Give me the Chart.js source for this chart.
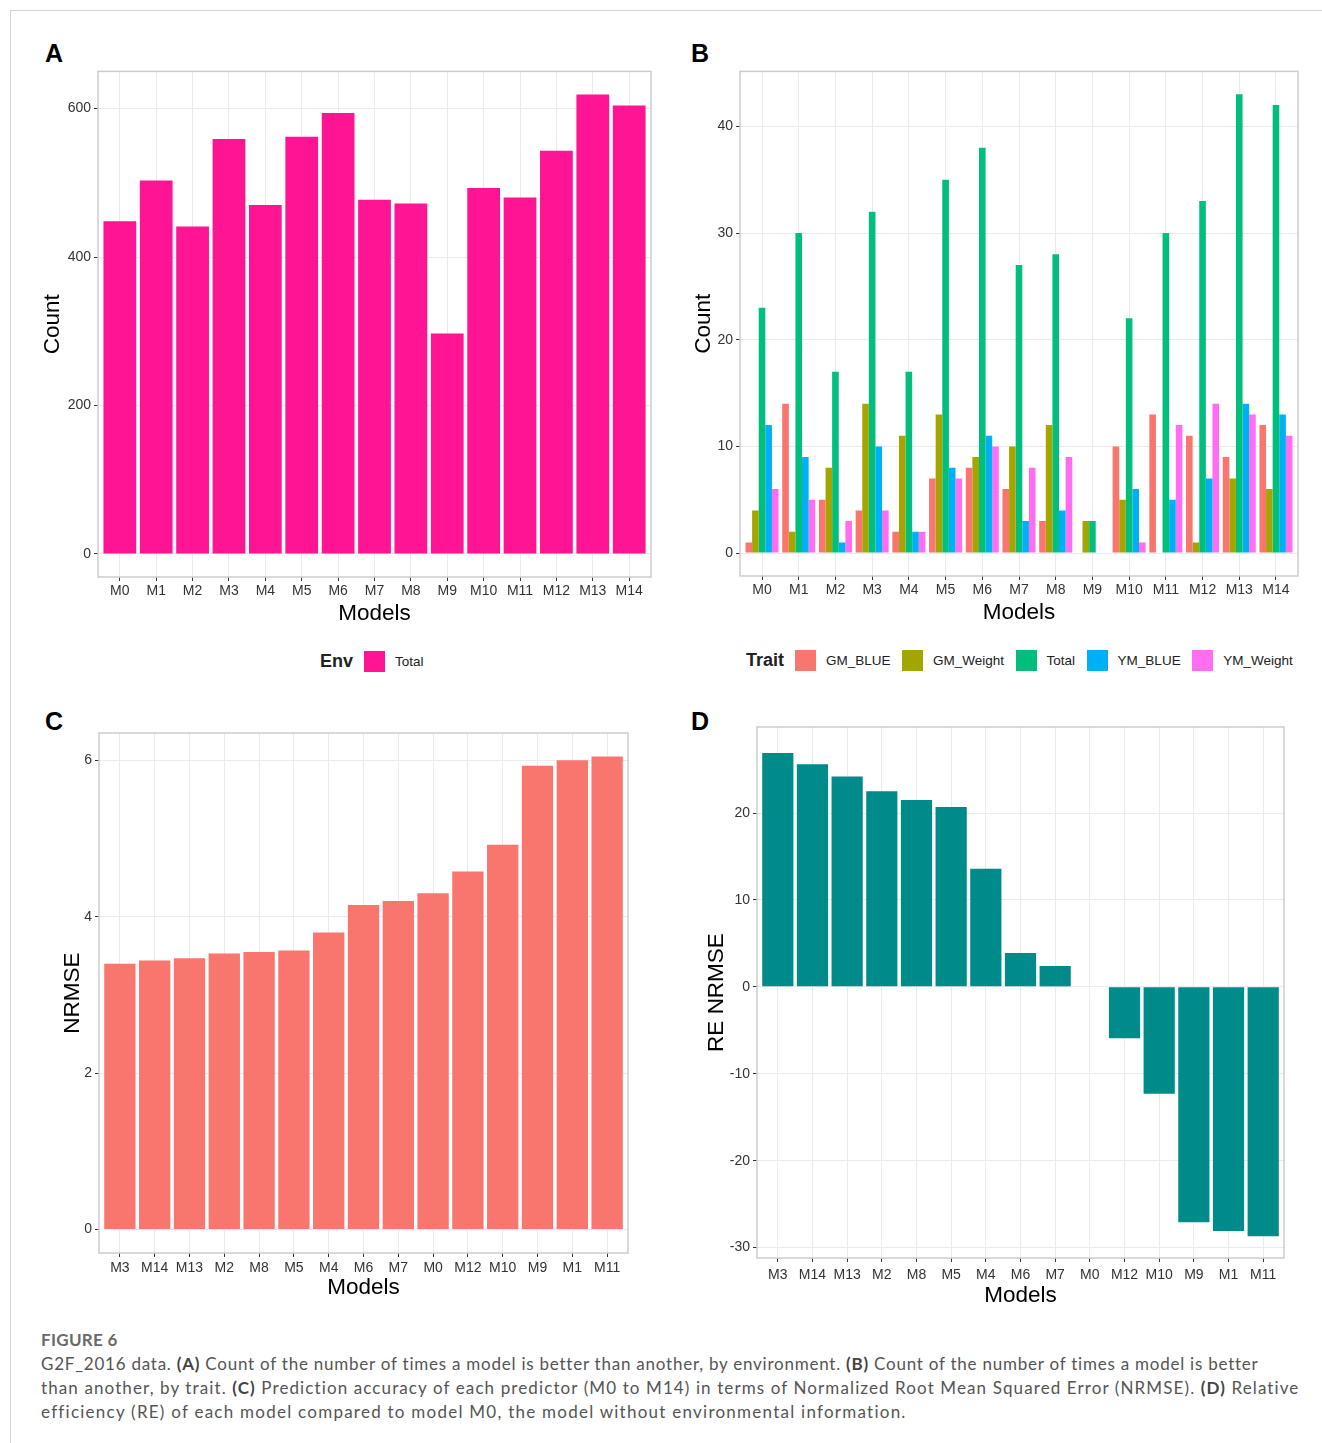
<!DOCTYPE html>
<html>
<head>
<meta charset="utf-8">
<title>G2F_2016 model comparison</title>
<script src="https://cdn.jsdelivr.net/npm/chart.js@4.4.1/dist/chart.umd.min.js"></script>
<style>
  html, body { margin: 0; padding: 0; background: #fff; }
  body { width: 1322px; height: 1443px; position: relative; overflow: hidden;
         font-family: "Liberation Sans", Arial, sans-serif; }
  .sheet { position: absolute; left: 10px; top: 10px; right: 0; bottom: 0;
           border-top: 1px solid #d4d4d4; border-left: 1px solid #d4d4d4; }
  canvas { position: absolute; }
  .tag { position: absolute; font-weight: bold; font-size: 25px; line-height: 1; color: #000; }
  .legend { position: absolute; display: flex; align-items: center; height: 22px;
            font-size: 13.5px; color: #222; white-space: nowrap; }
  .legend .ttl { font-weight: bold; font-size: 18px; margin-right: 11px; }
  .legend .sw { width: 21px; height: 21px; margin-right: 10px; }
  .legend .it { display: flex; align-items: center; margin-right: 11.5px; }
  .cap { position: absolute; left: 41px; font-family: Lato, "Open Sans", sans-serif;
         color: #555; font-size: 17px; white-space: nowrap; line-height: 24px; }
  .cap b { color: #444; }
  .fig { font-weight: bold; color: #6a6a6a; letter-spacing: 0.3px; }
</style>
</head>
<body>
<div class="sheet"></div>

<div class="tag" style="left:45px;top:41px;">A</div>
<div class="tag" style="left:691px;top:41px;">B</div>
<div class="tag" style="left:45px;top:709px;">C</div>
<div class="tag" style="left:691px;top:709px;">D</div>

<canvas id="chartA" width="640" height="580" style="left:20px;top:60px;"></canvas>
<canvas id="chartB" width="645" height="580" style="left:665px;top:60px;"></canvas>
<canvas id="chartC" width="620" height="590" style="left:20px;top:720px;"></canvas>
<canvas id="chartD" width="640" height="600" style="left:665px;top:715px;"></canvas>

<div class="legend" id="legendA" style="left:320px;top:650px;"></div>
<div class="legend" id="legendB" style="left:746px;top:649px;"></div>

<div class="cap fig" style="top:1328px;">FIGURE 6</div>
<div class="cap line" data-w="1217" style="top:1352px;">G2F_2016 data. <b>(A)</b> Count of the number of times a model is better than another, by environment. <b>(B)</b> Count of the number of times a model is better</div>
<div class="cap line" data-w="1259" style="top:1376px;">than another, by trait. <b>(C)</b> Prediction accuracy of each predictor (M0 to M14) in terms of Normalized Root Mean Squared Error (NRMSE). <b>(D)</b> Relative</div>
<div class="cap line" data-w="865" style="top:1400px;">efficiency (RE) of each model compared to model M0, the model without environmental information.</div>

<script>
// ---- data ----
const models = ['M0','M1','M2','M3','M4','M5','M6','M7','M8','M9','M10','M11','M12','M13','M14'];

// (A) wins per model, counted by environment
const envLabel = 'Total';
const envTotal = [448, 503, 441, 559, 470, 562, 594, 477, 472, 297, 493, 480, 543, 619, 604];

// (B) wins per model, counted by trait
const traitNames = ['GM_BLUE', 'GM_Weight', 'Total', 'YM_BLUE', 'YM_Weight'];
const gmBlue    = [1, 14, 5, 4, 2, 7, 8, 6, 3, 0, 10, 13, 11, 9, 12];
const gmWeight  = [4, 2, 8, 14, 11, 13, 9, 10, 12, 3, 5, 0, 1, 7, 6];
const traitTot  = [23, 30, 17, 32, 17, 35, 38, 27, 28, 3, 22, 30, 33, 43, 42];
const ymBlue    = [12, 9, 1, 10, 2, 8, 11, 3, 4, 0, 6, 5, 7, 14, 13];
const ymWeight  = [6, 5, 3, 4, 2, 7, 10, 8, 9, 0, 1, 12, 14, 13, 11];

// (C) and (D) models sorted by NRMSE
const rankedModels = ['M3','M14','M13','M2','M8','M5','M4','M6','M7','M0','M12','M10','M9','M1','M11'];
const nrmse   = [3.40, 3.44, 3.47, 3.53, 3.55, 3.57, 3.80, 4.15, 4.20, 4.30, 4.58, 4.92, 5.93, 6.00, 6.05];
const reNrmse = [26.9, 25.6, 24.2, 22.5, 21.5, 20.7, 13.6, 3.9, 2.4, 0, -5.9, -12.3, -27.1, -28.1, -28.7];

// axis tick values
const ticksA = [0, 200, 400, 600];
const ticksB = [0, 10, 20, 30, 40];
const ticksC = [0, 2, 4, 6];
const ticksD = [-30, -20, -10, 0, 10, 20];

// ---- styling ----
const FONT = 'Liberation Sans';
Chart.defaults.font.family = FONT;
const envColor = '#FF1493';
const traitColors = ['#F8766D', '#A3A500', '#00BF7D', '#00B0F6', '#FF6DF3'];
const nrmseColor = '#F8766D';
const reColor = '#008B8B';
const GRID = '#ebebeb';
const TICK = '#333333';

// outline of the plotting panel
const panelFrame = {
  id: 'panelFrame',
  afterDraw(chart) {
    const { ctx, chartArea: a } = chart;
    ctx.save();
    ctx.strokeStyle = '#cdcdcd';
    ctx.lineWidth = 1.5;
    ctx.strokeRect(a.left, a.top, a.right - a.left, a.bottom - a.top);
    ctx.restore();
  }
};

function xAxis(cats, o) {
  return {
    type: 'linear', min: -0.6, max: cats.length - 0.4, offset: false,
    afterBuildTicks: s => { s.ticks = cats.map((_, i) => ({ value: i })); },
    afterFit: s => { s.height = o.height; },
    ticks: { callback: v => cats[v], autoSkip: false, maxRotation: 0,
             font: { size: 14 }, color: TICK, padding: o.tickPad },
    grid: { offset: false, color: GRID, lineWidth: 1, tickColor: TICK, tickLength: 4 },
    border: { display: false },
    title: { display: true, text: 'Models', color: '#000', font: { size: 22.5 },
             padding: { top: 0, bottom: o.titlePad } }
  };
}

function yAxis(ticks, o) {
  return {
    type: 'linear', min: o.min, max: o.max,
    afterBuildTicks: s => { s.ticks = ticks.map(v => ({ value: v })); },
    afterFit: s => { s.width = o.width; },
    ticks: { font: { size: 14 }, color: TICK, padding: 3 },
    grid: { color: GRID, lineWidth: 1, tickColor: TICK, tickLength: 4 },
    border: { display: false },
    title: { display: true, text: o.title, color: '#000', font: { size: 22.5 },
             padding: { top: o.titlePad, bottom: 0 } }
  };
}

function points(vals) { return vals.map((v, i) => ({ x: i, y: v })); }

function barChart(id, datasets, cats, o) {
  return new Chart(document.getElementById(id), {
    type: 'bar',
    data: { datasets },
    options: {
      responsive: false, animation: false, devicePixelRatio: 1,
      layout: { padding: o.padding },
      plugins: { legend: { display: false }, tooltip: { enabled: false } },
      datasets: { bar: { categoryPercentage: 0.9, barPercentage: 1.0, borderWidth: 0 } },
      scales: { x: xAxis(cats, o.x), y: yAxis(o.ticks, o.y) }
    },
    plugins: [panelFrame]
  });
}

// (A)
barChart('chartA',
  [{ label: envLabel, data: points(envTotal), backgroundColor: envColor }],
  models,
  { padding: { top: 11, right: 9, left: 0, bottom: 0 },
    ticks: ticksA,
    x: { height: 63, tickPad: 2, titlePad: 13 },
    y: { min: -31, max: 650, width: 78, title: 'Count', titlePad: 19 } });

// (B)
const traitSeries = [gmBlue, gmWeight, traitTot, ymBlue, ymWeight];
barChart('chartB',
  traitNames.map((n, k) => ({ label: n, data: points(traitSeries[k]), backgroundColor: traitColors[k] })),
  models,
  { padding: { top: 11, right: 12, left: 0, bottom: 0 },
    ticks: ticksB,
    x: { height: 64, tickPad: 2, titlePad: 14 },
    y: { min: -2.15, max: 45.15, width: 75, title: 'Count', titlePad: 25 } });

// (C)
barChart('chartC',
  [{ label: 'NRMSE', data: points(nrmse), backgroundColor: nrmseColor }],
  rankedModels,
  { padding: { top: 13, right: 12, left: 0, bottom: 0 },
    ticks: ticksC,
    x: { height: 57, tickPad: 2.5, titlePad: 9 },
    y: { min: -0.30, max: 6.35, width: 79, title: 'NRMSE', titlePad: 39 } });

// (D)
barChart('chartD',
  [{ label: 'RE NRMSE', data: points(reNrmse), backgroundColor: reColor }],
  rankedModels,
  { padding: { top: 12, right: 21, left: 0, bottom: 0 },
    ticks: ticksD,
    x: { height: 57, tickPad: 4.5, titlePad: 6 },
    y: { min: -31.2, max: 29.9, width: 92, title: 'RE NRMSE', titlePad: 38 } });

// legends
function buildLegend(id, title, names, colors) {
  const el = document.getElementById(id);
  const t = document.createElement('span');
  t.className = 'ttl'; t.textContent = title; el.appendChild(t);
  names.forEach((n, i) => {
    const it = document.createElement('span'); it.className = 'it';
    const sw = document.createElement('span'); sw.className = 'sw'; sw.style.background = colors[i];
    const tx = document.createElement('span'); tx.textContent = n;
    it.appendChild(sw); it.appendChild(tx); el.appendChild(it);
  });
}
buildLegend('legendA', 'Env', [envLabel], [envColor]);
buildLegend('legendB', 'Trait', traitNames, traitColors);

// caption lines: spread letters so each line ends where it should
function fitCaption() {
  document.querySelectorAll('.cap.line').forEach(el => {
    const target = +el.dataset.w;
    const w = el.getBoundingClientRect().width;
    const n = el.textContent.length;
    el.style.letterSpacing = ((target - w) / n).toFixed(3) + 'px';
  });
}
if (document.fonts && document.fonts.ready) document.fonts.ready.then(fitCaption); else fitCaption();
</script>
</body>
</html>
